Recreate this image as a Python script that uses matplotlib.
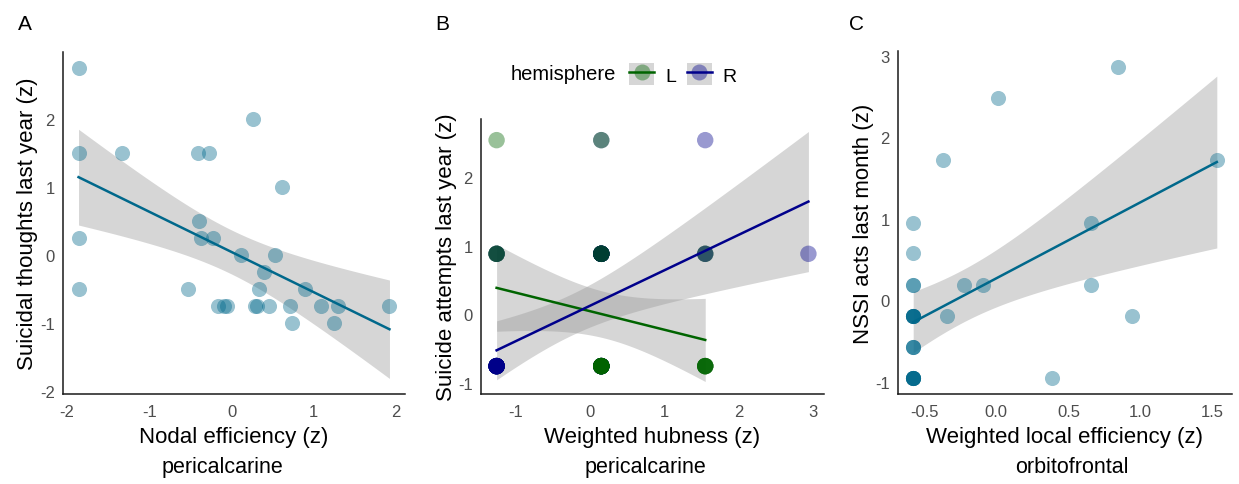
import numpy as np
import matplotlib
matplotlib.use("Agg")
import matplotlib.pyplot as plt
from matplotlib.patches import Patch
from matplotlib.lines import Line2D
from matplotlib.legend_handler import HandlerTuple

plt.rcParams['font.family'] = ['Liberation Sans', 'DejaVu Sans']
plt.rcParams['axes.unicode_minus'] = False

# ---------------- data ----------------
# Panel A: nodal efficiency (pericalcarine) vs suicidal thoughts
A_nodal_eff = [-1.86, -1.85, -1.85, -1.85, -1.33, -0.41, -0.27, 0.26, 0.61, -0.40,
               -0.37, -0.22, 0.12, 0.53, 0.39, -0.53, 0.34, 0.89, -0.17, -0.09,
               -0.05, 0.28, 0.31, 0.45, 0.71, 1.09, 1.30, 1.92, 0.73, 1.25]
A_thoughts = [2.75, 1.5, 0.25, -0.5, 1.5, 1.5, 1.5, 2.0, 1.0, 0.5,
              0.25, 0.25, 0.0, 0.0, -0.25, -0.5, -0.5, -0.5, -0.75, -0.75,
              -0.75, -0.75, -0.75, -0.75, -0.75, -0.75, -0.75, -0.75, -1.0, -1.0]

# Panel B: weighted hubness (pericalcarine) vs suicide attempts, by hemisphere
# each position lists the hemispheres of the overlapping points in drawing order
B_hub = [-1.26, 0.15, 1.55, -1.26, 0.15, 1.55, 2.94, -1.26, 0.15, 1.55]
B_attempts = [2.53, 2.53, 2.53, 0.88, 0.88, 0.88, 0.88, -0.75, -0.75, -0.75]
B_hemis = ["L", "RL", "R", "LRLRL", "RRLRLRLRLRLRLRL", "LLR", "R",
           "LLLRRRRRRRRRRRR", "RRRRRRRRRLLLLLLLLLLLL", "LLLLLL"]
B_levels = ["L", "R"]
B_colors = {"L": "#006400", "R": "#00008B"}

# Panel C: weighted local efficiency (orbitofrontal) vs NSSI acts
C_loc_eff = [-0.577, -0.577, -0.577, -0.577, -0.577, -0.577, -0.367, -0.34, -0.227,
             -0.092, 0.014, 0.383, 0.655, 0.655, 0.847, 0.944, 1.529]
C_nssi = [0.95, 0.575, 0.19, -0.19, -0.575, -0.96, 1.72, -0.19, 0.19,
          0.19, 2.48, -0.96, 0.95, 0.19, 2.865, -0.19, 1.72]
C_count = [1, 1, 2, 6, 3, 7, 1, 1, 1, 1, 1, 1, 1, 1, 1, 1, 1]

POINT_COL = "#00688B"
RIBBON = (0.6, 0.6, 0.6, 0.4)
TITLE_FS = 16


def t975(nu):
    z = 1.959964
    return (z + (z**3 + z) / (4 * nu) + (5 * z**5 + 16 * z**3 + 3 * z) / (96 * nu**2)
            + (3 * z**7 + 19 * z**5 + 17 * z**3 - 15 * z) / (384 * nu**3))


def lm_band(x, y, n=80):
    x = np.asarray(x, float); y = np.asarray(y, float)
    N = len(x)
    xb, yb = x.mean(), y.mean()
    sxx = ((x - xb)**2).sum()
    b = ((x - xb) * (y - yb)).sum() / sxx
    a = yb - b * xb
    s = np.sqrt(((y - a - b * x)**2).sum() / (N - 2))
    g = np.linspace(x.min(), x.max(), n)
    f = a + b * g
    hw = t975(N - 2) * s * np.sqrt(1 / N + (g - xb)**2 / sxx)
    return g, f, f - hw, f + hw


def expand(lo, hi, m=0.05):
    r = hi - lo
    return lo - m * r, hi + m * r


def style(ax):
    for s in ("top", "right"):
        ax.spines[s].set_visible(False)
    for s in ("left", "bottom"):
        ax.spines[s].set_color("#1a1a1a")
        ax.spines[s].set_linewidth(1.1)
    ax.tick_params(axis="x", length=0, pad=7, labelsize=12, labelcolor="#4D4D4D")
    ax.tick_params(axis="y", length=0, pad=6, labelsize=12, labelcolor="#4D4D4D")
    ax.set_facecolor("white")


W, H = 1239, 485
fig = plt.figure(figsize=(W / 100, H / 100), dpi=100)


def rect(l, r, t, b):
    return [l / W, 1 - b / H, (r - l) / W, (b - t) / H]


# ---------------- Panel A ----------------
axA = fig.add_axes(rect(63, 405, 53, 395))
g, f, lo, hi = lm_band(A_nodal_eff, A_thoughts)
axA.fill_between(g, lo, hi, color=RIBBON, lw=0, zorder=1)
axA.scatter(A_nodal_eff, A_thoughts, s=118, color=POINT_COL, alpha=0.4, lw=0, zorder=2)
axA.plot(g, f, color=POINT_COL, lw=1.8, zorder=3)
axA.set_xlim(*expand(min(A_nodal_eff), max(A_nodal_eff)))
axA.set_ylim(*expand(min(min(A_thoughts), lo.min()), max(max(A_thoughts), hi.max())))
axA.set_xticks([-2, -1, 0, 1, 2])
axA.set_yticks([-2, -1, 0, 1, 2])
style(axA)
axA.set_xlabel("Nodal efficiency (z)", fontsize=TITLE_FS, labelpad=5)
axA.set_ylabel("Suicidal thoughts last year (z)", fontsize=TITLE_FS, labelpad=1)

# ---------------- Panel B ----------------
axB = fig.add_axes(rect(481, 824, 120, 395))
px, py, ph = [], [], []
for xh, ya, seq in zip(B_hub, B_attempts, B_hemis):
    for ch in seq:
        px.append(xh); py.append(ya); ph.append(ch)
px = np.array(px); py = np.array(py); ph = np.array(ph)
ylo, yhi = py.min(), py.max()
bands = {}
for lev in B_levels:
    m = ph == lev
    g, f, lo, hi = lm_band(px[m], py[m])
    bands[lev] = (g, f)
    axB.fill_between(g, lo, hi, color=RIBBON, lw=0, zorder=1)
    ylo = min(ylo, lo.min()); yhi = max(yhi, hi.max())
axB.scatter(px, py, s=140, c=[B_colors[h] for h in ph], alpha=0.4, lw=0, zorder=2)
for lev in B_levels:
    g, f = bands[lev]
    axB.plot(g, f, color=B_colors[lev], lw=1.8, zorder=3)
axB.set_xlim(*expand(px.min(), px.max()))
axB.set_ylim(*expand(ylo, yhi))
axB.set_xticks([-1, 0, 1, 2, 3])
axB.set_yticks([-1, 0, 1, 2])
style(axB)
axB.set_xlabel("Weighted hubness (z)", fontsize=TITLE_FS, labelpad=5)
axB.set_ylabel("Suicide attempts last year (z)", fontsize=TITLE_FS, labelpad=1)

# legend
fig.text(563 / W, 1 - 75 / H, "hemisphere", fontsize=14.5, ha="center", va="center")
handles = []
for lev in B_levels:
    handles.append((Patch(facecolor=RIBBON, edgecolor="none"),
                    Line2D([], [], color=B_colors[lev], lw=1.8, marker="o", markersize=11.5,
                           markerfacecolor=matplotlib.colors.to_rgba(B_colors[lev], 0.4),
                           markeredgewidth=0)))
fig.legend(handles, B_levels, ncol=2, loc="center left",
           bbox_to_anchor=(629 / W, 1 - 75 / H), frameon=False, fontsize=14,
           handlelength=1.3, handleheight=1.3, handletextpad=0.55, columnspacing=0.55,
           borderpad=0, borderaxespad=0,
           handler_map={tuple: HandlerTuple(ndivide=1, pad=0)})

# ---------------- Panel C ----------------
axC = fig.add_axes(rect(898, 1232, 52, 395))
cx = np.repeat(C_loc_eff, C_count)
cy = np.repeat(C_nssi, C_count)
g, f, lo, hi = lm_band(cx, cy)
axC.fill_between(g, lo, hi, color=RIBBON, lw=0, zorder=1)
axC.scatter(cx, cy, s=118, color=POINT_COL, alpha=0.4, lw=0, zorder=2)
axC.plot(g, f, color=POINT_COL, lw=1.8, zorder=3)
axC.set_xlim(*expand(cx.min(), cx.max()))
axC.set_ylim(*expand(min(cy.min(), lo.min()), max(cy.max(), hi.max())))
axC.set_xticks([-0.5, 0.0, 0.5, 1.0, 1.5])
axC.set_xticklabels(["-0.5", "0.0", "0.5", "1.0", "1.5"])
axC.set_yticks([-1, 0, 1, 2, 3])
style(axC)
axC.set_xlabel("Weighted local efficiency (z)", fontsize=TITLE_FS, labelpad=5)
axC.set_ylabel("NSSI acts last month (z)", fontsize=TITLE_FS, labelpad=1)

# panel letters and region captions
for xp, t in [(25, "A"), (442, "B"), (856, "C")]:
    fig.text(xp / W, 1 - 25 / H, t, fontsize=15, ha="center", va="center")
for xp, t in [(222, "pericalcarine"), (645, "pericalcarine"), (1072, "orbitofrontal")]:
    fig.text(xp / W, 1 - 468 / H, t, fontsize=15.5, ha="center", va="center")

fig.savefig("out.png", dpi=100, facecolor="white")
